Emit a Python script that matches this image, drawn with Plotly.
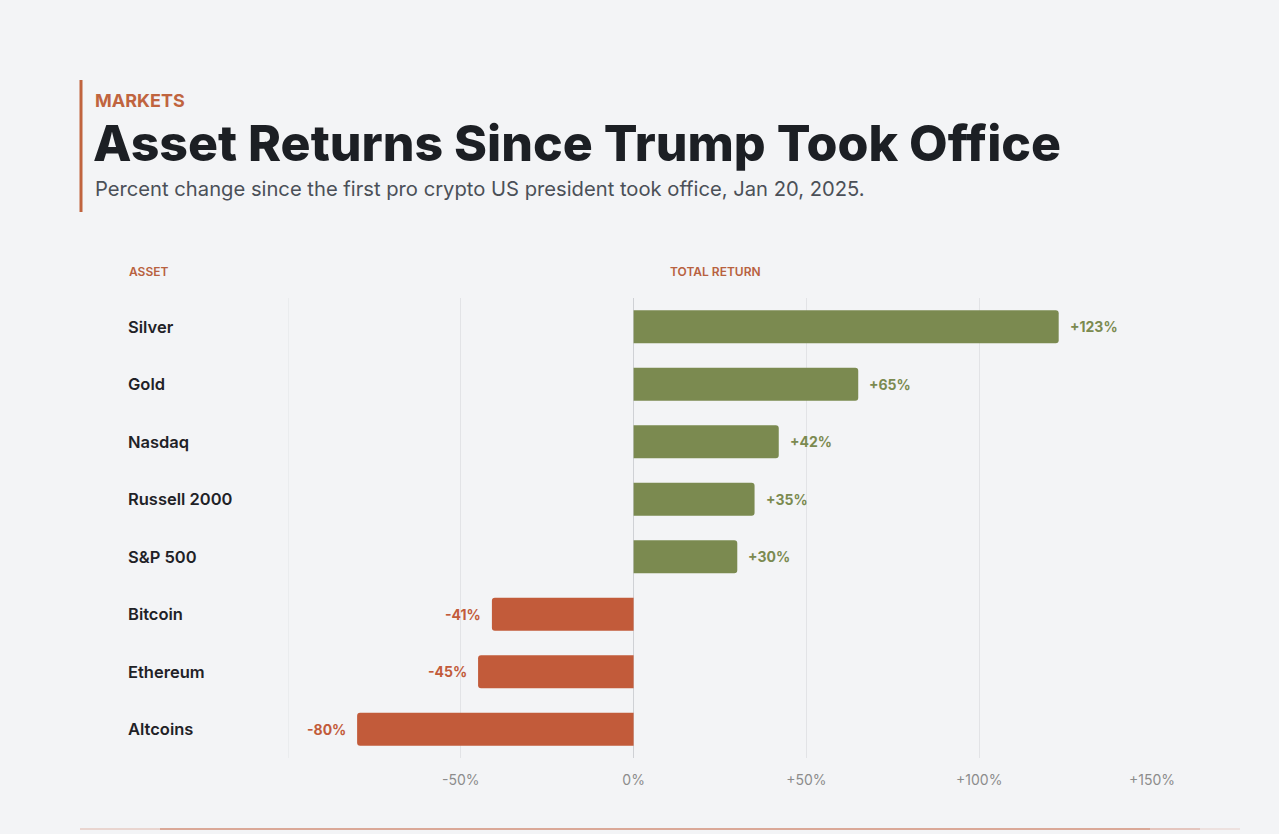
import plotly.graph_objects as go

# data
assets = ['Silver', 'Gold', 'Nasdaq', 'Russell 2000', 'S&P 500', 'Bitcoin', 'Ethereum', 'Altcoins']
returns = [123, 65, 42, 35, 30, -41, -45, -80]
tick_vals = [-50, 0, 50, 100, 150]
tick_text = ['-50%', '0%', '+50%', '+100%', '+150%']

W, H = 1279, 834
L, R, T, B = 288, 127, 298, 76

GREEN = '#7b8a50'
ORANGE = '#c25b3a'
BG = '#f3f4f6'
FONT = 'Inter'


def px(x):
    return (x - L) / (W - L - R)


def py(y):
    return (H - B - y) / (H - T - B)


colors = [GREEN if v >= 0 else ORANGE for v in returns]

fig = go.Figure()
fig.add_trace(go.Bar(
    x=returns, y=assets, orientation='h',
    marker=dict(color=colors, line=dict(width=0), cornerradius=3),
    width=0.57, hoverinfo='skip', showlegend=False
))

annotations = []
# value labels next to bars
for a, v, c in zip(assets, returns, colors):
    annotations.append(dict(
        x=v, y=a, xref='x', yref='y',
        text=f'+{v}%' if v >= 0 else f'{v}%',
        showarrow=False, xanchor='left' if v >= 0 else 'right',
        xshift=9 if v >= 0 else -9,
        font=dict(family=FONT, size=14, color=c, weight=700)
    ))
    # asset names on the left
    annotations.append(dict(
        x=px(126), y=a, xref='paper', yref='y', text=a,
        showarrow=False, xanchor='left',
        font=dict(family=FONT, size=16.5, color='#1f2227', weight=600)
    ))

# column headers
annotations.append(dict(x=px(127), y=py(271), xref='paper', yref='paper', text='ASSET',
                        showarrow=False, xanchor='left', yanchor='middle',
                        font=dict(family=FONT, size=12, color='#b8613f', weight=600)))
annotations.append(dict(x=px(668), y=py(271), xref='paper', yref='paper', text='TOTAL RETURN',
                        showarrow=False, xanchor='left', yanchor='middle',
                        font=dict(family=FONT, size=12, color='#b8613f', weight=600)))

# header block
annotations.append(dict(x=px(93), y=py(100), xref='paper', yref='paper', text='MARKETS',
                        showarrow=False, xanchor='left', yanchor='middle',
                        font=dict(family=FONT, size=18, color='#c0643f', weight=700)))
annotations.append(dict(x=px(91), y=py(143), xref='paper', yref='paper',
                        text='Asset Returns Since Trump Took Office',
                        showarrow=False, xanchor='left', yanchor='middle',
                        font=dict(family=FONT, size=50, color='#1c1f24', weight=800)))
annotations.append(dict(x=px(93), y=py(188), xref='paper', yref='paper',
                        text='Percent change since the first pro crypto US president took office, Jan 20, 2025.',
                        showarrow=False, xanchor='left', yanchor='middle',
                        font=dict(family=FONT, size=20.2, color='#4b5058')))

shapes = [
    dict(type='line', xref='paper', yref='paper', x0=px(81), x1=px(81), y0=py(80), y1=py(212),
         line=dict(color='#c0643f', width=3)),
]
# bottom rule, fading at both ends
rule_stops = [(80, 160, 0.2), (160, 1150, 0.5), (1150, 1200, 0.3), (1200, 1240, 0.12)]
for x0, x1, op in rule_stops:
    shapes.append(dict(type='line', xref='paper', yref='paper', x0=px(x0), x1=px(x1),
                       y0=py(829), y1=py(829),
                       line=dict(color=f'rgba(194,91,58,{op})', width=2)))

fig.update_layout(
    width=W, height=H,
    margin=dict(l=L, r=R, t=T, b=B),
    paper_bgcolor=BG, plot_bgcolor=BG,
    font=dict(family=FONT),
    bargap=0.43,
    xaxis=dict(
        range=[-100, 150], tickvals=tick_vals, ticktext=tick_text,
        showgrid=True, gridcolor='#e2e3e6', gridwidth=1,
        zeroline=True, zerolinecolor='#cfd1d5', zerolinewidth=1,
        tickfont=dict(family=FONT, size=14, color='#8c8c8c'),
        ticks='', ticklabelstandoff=12, fixedrange=True
    ),
    yaxis=dict(
        autorange='reversed', showticklabels=False, showgrid=False,
        zeroline=False, ticks='', fixedrange=True
    ),
    annotations=annotations,
    shapes=shapes,
)
# gridline at -100 too
fig.add_vline(x=-100, line=dict(color='#e2e3e6', width=1), layer='below')

fig.write_html('out.html', config={'displayModeBar': False},
               post_script="document.body.style.margin='0';document.body.style.background='#f3f4f6';")
